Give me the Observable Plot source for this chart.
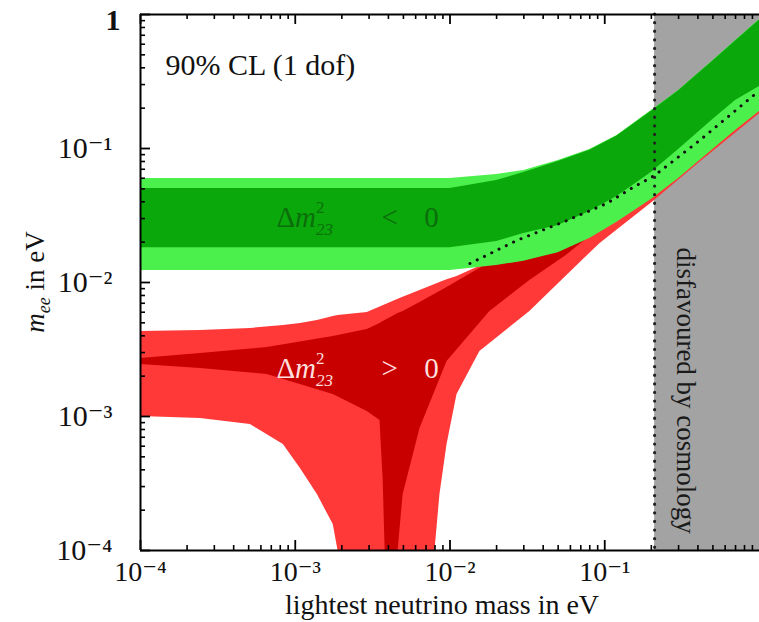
<!DOCTYPE html>
<html><head><meta charset="utf-8">
<script src="https://cdn.jsdelivr.net/npm/d3@7"></script>
<script src="https://cdn.jsdelivr.net/npm/@observablehq/plot@0.6"></script>
<style>body{margin:0;background:#fff;} svg{display:block;}</style>
</head><body><div id="chart"></div>
<script>
// ---- data ----
const cosmoBound = 0.21; // eV, disfavoured by cosmology beyond this

// inverted hierarchy (green)
const greenX         = [1e-4, 1e-3, 3e-3, 1e-2, 2e-2, 3e-2, 5e-2, 0.08, 0.12, 0.2, 0.3, 0.5, 0.7, 1];
const greenOuterHigh = [0.0597, 0.0597, 0.0597, 0.0597, 0.0640, 0.0686, 0.0813, 0.0983, 0.125, 0.192, 0.271, 0.454, 0.640, 0.918];
const greenInnerHigh = [0.0503, 0.0503, 0.0503, 0.0503, 0.0577, 0.0662, 0.0800, 0.0970, 0.124, 0.190, 0.270, 0.450, 0.635, 0.910];
const greenInnerLow  = [0.0182, 0.0182, 0.0182, 0.0182, 0.0202, 0.0232, 0.0266, 0.0339, 0.0439, 0.0662, 0.0983, 0.1645, 0.228, 0.290];
const greenOuterLow  = [0.0123, 0.0123, 0.0123, 0.0123, 0.0134, 0.0144, 0.0167, 0.0213, 0.0281, 0.0416, 0.0597, 0.0983, 0.136, 0.189];

// normal hierarchy (red), outer region
const redLightX    = [1.0e-4, 2.44e-4, 5.13e-4, 8.38e-4, 1.08e-3, 1.39e-3, 1.76e-3, 1.89e-3, 2.92e-3, 4.75e-3, 8.0e-3, 8.61e-3, 9.57e-3, 1.11e-2, 1.56e-2, 3.28e-2, 5.52e-2, 9.29e-2, 0.21, 0.41, 1.0];
const redLightLow  = [1.0e-3, 9.66e-4, 8.71e-4, 6.18e-4, 4.09e-4, 2.62e-4, 1.56e-4, 1e-4, 1e-4, 1e-4, 1e-4, 2.62e-4, 6.18e-4, 1.46e-3, 3.05e-3, 6.08e-3, 1.09e-2, 1.95e-2, 4.09e-2, 7.87e-2, 0.182];
const redLightHigh = [4.31e-3, 4.39e-3, 4.54e-3, 4.77e-3, 4.94e-3, 5.20e-3, 5.57e-3, 5.67e-3, 5.97e-3, 7.60e-3, 9.66e-3, 1.0e-2, 1.05e-2, 1.11e-2, 1.32e-2, 1.73e-2, 2.44e-2, 3.16e-2, 5.30e-2, 9.66e-2, 0.228];

// normal hierarchy (red), inner region
const redDarkX    = [1.0e-4, 2.44e-4, 6.59e-4, 1.76e-3, 2.92e-3, 3.53e-3, 3.70e-3, 3.81e-3, 4.62e-3, 4.98e-3, 6.40e-3, 9.57e-3, 1.81e-2, 3.28e-2, 5.52e-2, 9.29e-2, 0.21, 0.41, 1.0];
const redDarkLow  = [2.44e-3, 2.28e-3, 2.06e-3, 1.46e-3, 1.09e-3, 9.33e-4, 3.33e-4, 1e-4, 1e-4, 2.62e-4, 8.13e-4, 2.57e-3, 6.08e-3, 1.035e-2, 1.56e-2, 2.53e-2, 4.86e-2, 8.87e-2, 0.209];
const redDarkHigh = [2.71e-3, 2.95e-3, 3.27e-3, 3.95e-3, 4.46e-3, 4.94e-3, 5.12e-3, 5.20e-3, 5.87e-3, 6.08e-3, 7.10e-3, 9.18e-3, 1.41e-2, 1.89e-2, 2.36e-2, 3.01e-2, 5.03e-2, 9.33e-2, 0.220];

// dotted curve
const dottedX = [0.01345, 0.0270, 0.0569, 0.103, 0.152, 0.210, 0.410, 1.0];
const dottedY = [0.01386, 0.0206, 0.0290, 0.0389, 0.0512, 0.0629, 0.1148, 0.271];

// ticks and labels
const xMajor = [1e-4, 1e-3, 1e-2, 1e-1];
const xTickLabels = ["10\u207B\u2074", "10\u207B\u00B3", "10\u207B\u00B2", "10\u207B\u00B9"];
const yMajor = [1e-4, 1e-3, 1e-2, 1e-1, 1];
const yTickValues = [1e-4, 1e-3, 1e-2, 1e-1];
const yTickLabels = ["10\u207B\u2074", "10\u207B\u00B3", "10\u207B\u00B2", "10\u207B\u00B9"];
const decades = [1e-4, 1e-3, 1e-2, 1e-1];
const minorTicks = decades.flatMap(d => [2,3,4,5,6,7,8,9].map(k => k * d));

// annotation anchors (data coords)
const clLabel = "90% CL (1 dof)";
const clPos = [1.45e-4, 0.416];
const cosmoLabel = "disfavoured by cosmology";
const cosmoPos = [0.333, 1.56e-3];
const labelStartX = 1.16e-3, signX = 4.1e-3, zeroX = 7.65e-3;
const greenLabelY = 0.0257, redLabelY = 1.92e-3;

// ---- tables ----
const green = greenX.map((x, i) => ({x, oh: greenOuterHigh[i], ih: greenInnerHigh[i], il: greenInnerLow[i], ol: greenOuterLow[i]}));
const redLight = redLightX.map((x, i) => ({x, lo: redLightLow[i], hi: redLightHigh[i]}));
const redDark = redDarkX.map((x, i) => ({x, lo: redDarkLow[i], hi: redDarkHigh[i]}));
const dotted = dottedX.map((x, i) => ({x, y: dottedY[i]}));

const FONT = "'Liberation Serif', 'DejaVu Serif', 'Times New Roman', serif";
const frameH = 622 - 14 - 72, frameW = 759 - 140;

const svg = Plot.plot({
  width: 759, height: 622,
  marginLeft: 140, marginRight: 0, marginTop: 14, marginBottom: 72,
  x: {type: "log", domain: [1e-4, 1], axis: null},
  y: {type: "log", domain: [1e-4, 1], axis: null},
  style: {fontFamily: FONT, background: "white", overflow: "visible"},
  marks: [
    Plot.rect([cosmoBound], {x1: d => d, x2: 1, y1: 1e-4, y2: 1, fill: "#a3a3a3"}),
    Plot.areaY(redLight, {x: "x", y1: "lo", y2: "hi", fill: "#ff3838"}),
    Plot.areaY(redDark, {x: "x", y1: "lo", y2: "hi", fill: "#c80000"}),
    Plot.areaY(green, {x: "x", y1: "ol", y2: "oh", fill: "#4cf04c"}),
    Plot.areaY(green, {x: "x", y1: "il", y2: "ih", fill: "#0aa80a"}),
    Plot.line(dotted, {x: "x", y: "y", stroke: "#111", strokeWidth: 3, strokeDasharray: "0.1,8", strokeLinecap: "round"}),
    Plot.ruleX([cosmoBound], {stroke: "#222", strokeWidth: 3.2, strokeDasharray: "0.1,8.5", strokeLinecap: "round"}),
    // frame
    Plot.ruleX([1e-4], {stroke: "black", strokeWidth: 2}),
    Plot.ruleY([1e-4, 1], {stroke: "black", strokeWidth: 2}),
    // ticks (inward)
    Plot.tickX(xMajor, {x: d => d, insetTop: frameH - 10, stroke: "black", strokeWidth: 1.8}),
    Plot.tickX(minorTicks, {x: d => d, insetTop: frameH - 5, stroke: "black", strokeWidth: 1.6}),
    Plot.tickX(xMajor, {x: d => d, insetBottom: frameH - 10, stroke: "black", strokeWidth: 1.8}),
    Plot.tickX(minorTicks, {x: d => d, insetBottom: frameH - 5, stroke: "black", strokeWidth: 1.6}),
    Plot.tickY(yMajor, {y: d => d, insetRight: frameW - 10, stroke: "black", strokeWidth: 1.8}),
    Plot.tickY(minorTicks, {y: d => d, insetRight: frameW - 5, stroke: "black", strokeWidth: 1.6}),
    // tick labels
    Plot.text(xTickLabels, {x: (d, i) => xMajor[i], y: 1e-4, dy: 22, lineAnchor: "middle", fontSize: 28, fill: "#111"}),
    Plot.text(yTickLabels, {x: 1e-4, y: (d, i) => yTickValues[i], dx: -28, textAnchor: "end", lineAnchor: "middle", fontSize: 30, fill: "#111"}),
    Plot.text(["1"], {x: 1e-4, y: 1, dx: -20, dy: 6, textAnchor: "end", lineAnchor: "middle", fontSize: 30, fontWeight: "bold", fill: "#111"}),
    // titles & annotations
    Plot.text(["lightest neutrino mass in eV"], {frameAnchor: "bottom", dx: -8, dy: 55, lineAnchor: "middle", fontSize: 28, fill: "#111"}),
    Plot.text([clLabel], {x: clPos[0], y: clPos[1], textAnchor: "start", lineAnchor: "middle", fontSize: 30, fill: "#111"}),
    Plot.text([cosmoLabel], {x: cosmoPos[0], y: cosmoPos[1], rotate: 90, lineAnchor: "middle", fontSize: 27, fill: "#1a1a1a"})
  ]
});

const sx = svg.scale("x"), sy = svg.scale("y");
const root = d3.select(svg);

// y-axis title with italic m and subscript ee
const yt = root.append("text")
  .attr("transform", "translate(44,282) rotate(-90)")
  .attr("text-anchor", "middle").attr("font-family", FONT).attr("font-size", 27).attr("fill", "#111");
yt.append("tspan").attr("font-style", "italic").text("m");
yt.append("tspan").attr("font-style", "italic").attr("font-size", 18).attr("dy", 6).text("ee");
yt.append("tspan").attr("dy", -6).text(" in eV");

function bandLabel(yv, color, sign) {
  const t = root.append("text")
    .attr("x", sx.apply(labelStartX)).attr("y", sy.apply(yv))
    .attr("font-family", FONT).attr("font-size", 29).attr("fill", color);
  t.append("tspan").text("\u0394");
  t.append("tspan").attr("font-style", "italic").text("m");
  t.append("tspan").attr("font-size", 17).attr("dy", -14).text("2");
  t.append("tspan").attr("font-size", 17).attr("font-style", "italic").attr("dx", -8.5).attr("dy", 22).text("23");
  t.append("tspan").attr("x", sx.apply(signX)).attr("dy", -8).text(sign);
  t.append("tspan").attr("x", sx.apply(zeroX)).text("0");
}
bandLabel(greenLabelY, "#0b6e0b", "<");
bandLabel(redLabelY, "#ffdede", ">");

document.getElementById("chart").appendChild(svg);
</script>
</body></html>
